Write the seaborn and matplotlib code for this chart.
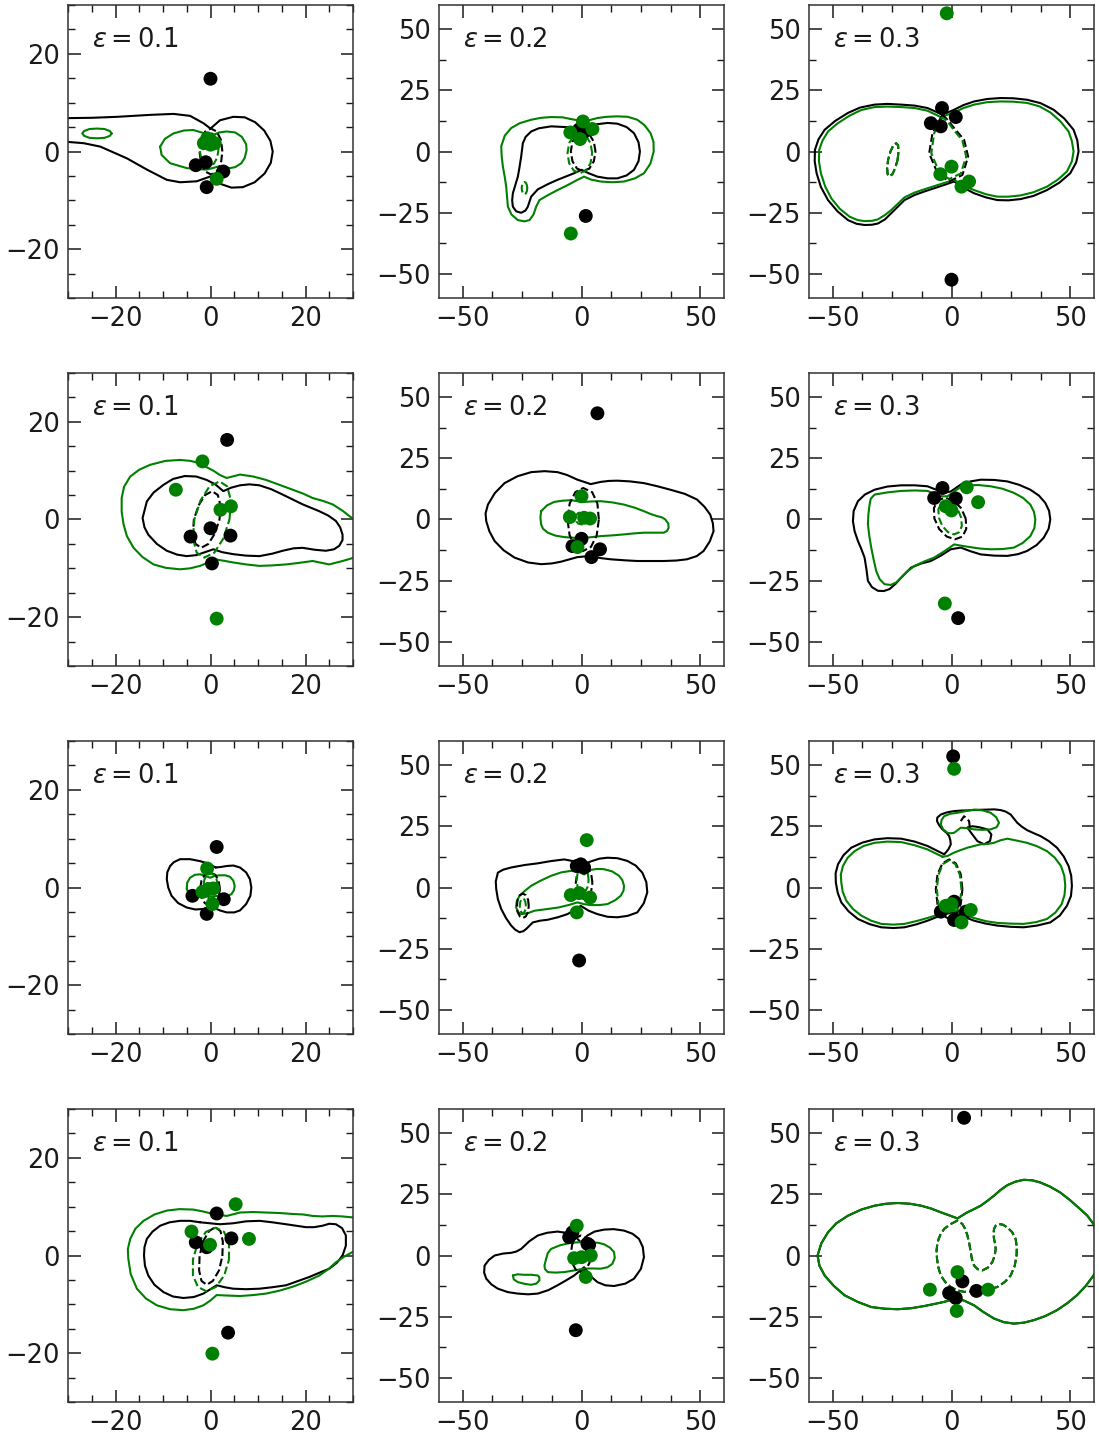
import numpy as np
import pandas as pd
import matplotlib.pyplot as plt
from matplotlib.ticker import MultipleLocator
import seaborn as sns

sns.set_style("ticks")
plt.rcParams['font.family'] = ['DejaVu Sans']
plt.rcParams['mathtext.fontset'] = 'dejavusans'

GREEN = '#008000'

# ---------------- row 1 ----------------
r1c1_black = [(-33, 6.8), (-25, 6.9), (-19.7, 7.1), (-12.7, 7.5), (-7.8, 7.7), (-4.3, 7.3), (-1.5, 5.8), (0, 4.7),
              (2, 6.4), (4.8, 7.1), (7.2, 7.0), (9.4, 6.0), (11.3, 4.3), (12.6, 2.2), (13.1, 0), (12.7, -2.3),
              (11.4, -4.5), (9.3, -6.3), (6.8, -7.3), (4.4, -7.4), (2, -6.6), (0, -5.1), (-2.9, -6.1), (-6.4, -6.3),
              (-9.2, -5.8), (-13.4, -3.7), (-17.6, -1.4), (-23.2, 1.0), (-26.7, 1.7), (-33, 2.2)]
r1c1_green = [(-10.6, 1.0), (-9.6, 2.6), (-7.8, 3.7), (-5.6, 4.3), (-3.6, 4.4), (-1.2, 3.7), (0.4, 3.3), (1.8, 3.9),
              (3.4, 4.1), (5.2, 3.9), (6.6, 3.0), (7.5, 1.5), (7.6, 0.3), (7.2, -1.3), (6.5, -2.4), (5.2, -3.2),
              (4.1, -3.4), (1.6, -3.1), (-0.8, -3.7), (-2.8, -3.6), (-5, -3.4), (-8.5, -2.4), (-10.3, -0.7)]
r1c1_green_small = [(-20.8, 3.7), (-21.2, 4.2), (-22.3, 4.6), (-23.9, 4.7), (-25.5, 4.6), (-26.6, 4.2), (-27.0, 3.7),
                    (-26.6, 3.2), (-25.5, 2.8), (-23.9, 2.7), (-22.3, 2.8), (-21.2, 3.2)]
r1c1_bdash = [(2.5, 0), (2.2, 2.4), (1.3, 4.1), (0.1, 4.7), (-1.1, 4.1), (-2.0, 2.4), (-2.3, 0), (-2.0, -2.4),
              (-1.1, -4.1), (0.1, -4.7), (1.3, -4.1), (2.2, -2.4)]
r1c1_gdash = [(1.7, 0.5), (1.4, 2.3), (0.7, 3.5), (-0.3, 4.0), (-1.3, 3.5), (-2.0, 2.3), (-2.3, 0.5), (-2.0, -1.3),
              (-1.3, -2.5), (-0.3, -3.0), (0.7, -2.5), (1.4, -1.3)]
r1c1_bpts = [(0, 14.9), (-3.1, -2.8), (-1, -2.2), (2.7, -4.1), (-0.8, -7.3)]
r1c1_gpts = [(-1.4, 1.7), (-0.7, 2.7), (0.9, 1.7), (0, 1.4), (1.3, -5.6)]

r1c2_black = [(-4.5, 9.9), (-12.8, 10.3), (-18, 9.5), (-21.2, 8.2), (-23.5, 6), (-24.7, 3.4), (-25.4, -2.1),
              (-26.2, -7), (-26.8, -10.3), (-28.9, -17.1), (-29.2, -20), (-28.9, -22.6), (-27.5, -24.5),
              (-25.4, -25.1), (-23.6, -24.2), (-22.6, -22.6), (-21.2, -18.5), (-18.4, -15.5), (-14, -13.3),
              (-10.1, -11.6), (-3.1, -8.9), (0, -7.5), (3, -8.9), (6.7, -10.3), (11, -11), (15.1, -11.0),
              (19, -9.8), (22.1, -7.5), (24, -4), (24.6, 0), (24, 3.8), (22.1, 7.5), (19, 10), (15.1, 11.4),
              (11, 11.7), (6.7, 11.2), (1.1, 9.6)]
r1c2_green = [(-4.5, 13.3), (-8, 14), (-12.8, 14.1), (-17, 13.8), (-21.2, 13.0), (-26, 11.6), (-29.6, 9.6),
              (-32.3, 6.5), (-33.8, 2.1), (-33.6, -2), (-33.1, -6.2), (-32.3, -10.5), (-31.7, -14.4), (-31.0, -22.6),
              (-29.5, -25.8), (-26.8, -28.1), (-24, -28.6), (-21.9, -28.1), (-20.2, -25.8), (-19.1, -22.6),
              (-17.7, -19.9), (-14, -17.8), (-10.1, -15.8), (-5.5, -13.6), (-1.7, -11.6), (1.1, -10.3), (4, -11.5),
              (8.1, -12.3), (13, -12.6), (17.9, -12.3), (22.5, -11), (26.3, -8.9), (29, -5), (30.4, 0), (30.3, 4),
              (29.1, 7.5), (26.5, 10.8), (23.5, 13.0), (19.5, 14.2), (15.1, 14.4), (10.5, 14.2), (6.7, 13.7),
              (1.1, 12.3)]
r1c2_bdash = [(5.9, 0), (5.2, 4), (3.3, 7), (0.7, 8), (-1.9, 7), (-3.8, 4), (-4.5, 0), (-3.8, -4), (-1.9, -7),
              (0.7, -8), (3.3, -7), (5.2, -4)]
r1c2_gdash = [(4.5, -0.7), (3.8, 3.4), (1.9, 6.4), (-0.7, 7.5), (-3.3, 6.4), (-5.2, 3.4), (-5.9, -0.7), (-5.2, -4.8),
              (-3.3, -7.8), (-0.7, -8.9), (1.9, -7.8), (3.8, -4.8)]
r1c2_gdash_small = [(-22.8, -15), (-23, -13.8), (-23.4, -12.8), (-24, -12.5), (-24.6, -12.8), (-25, -13.8),
                    (-25.2, -15), (-25, -16.2), (-24.6, -17.2), (-24, -17.5), (-23.4, -17.2), (-23, -16.2)]
r1c2_bpts = [(1.8, -26.4), (-1, 9), (1, 8)]
r1c2_gpts = [(-4.5, -33.6), (0.6, 12.3), (4.6, 9.2), (-4.7, 7.8), (-0.6, 5.1)]

r1c3_black = [(-3.8, 15.1), (-10.1, 17.8), (-15.5, 18.8), (-21.2, 19.2), (-27, 19.5), (-32.4, 19.2), (-38.5, 18),
              (-43.6, 15.8), (-49, 12.5), (-53.4, 8.9), (-56, 5), (-57.5, 0.7), (-57.6, -4), (-56.8, -8.9),
              (-55, -14.5), (-52, -19.9), (-48, -24.5), (-43.6, -28.1), (-40, -29.6), (-36.6, -30.1), (-33.5, -30),
              (-31, -29.5), (-28, -27.8), (-25.4, -25.3), (-19.8, -19.9), (-15.5, -17.8), (-11.5, -16.4),
              (-3.1, -13.7), (1.1, -12.3), (5, -14.8), (9.5, -17.1), (14.5, -18.8), (19.3, -19.9), (24, -20),
              (29, -19.5), (34.5, -18.2), (40.2, -15.8), (45.5, -12.7), (50, -8.9), (52.5, -4.5), (53.5, 0),
              (53, 4.5), (51.4, 8.9), (47.5, 13.5), (43, 17.1), (37.5, 19.8), (31.8, 21.2), (26, 21.8), (20.7, 21.9),
              (15, 21.5), (9.5, 20.5), (5, 19), (1.1, 17.1)]
r1c3_green = [(-4.5, 14.1), (-10.1, 16.7), (-15.5, 17.8), (-21.2, 18.2), (-27, 18.4), (-32.4, 18.2), (-38, 17),
              (-42.9, 14.7), (-48, 11.5), (-52, 8.2), (-54.3, 4.5), (-55.7, 0.7), (-55.8, -4), (-55, -8.9),
              (-53.2, -14.3), (-50.6, -19.2), (-47, -23.5), (-42.9, -26.7), (-39.5, -28.1), (-36.6, -28.5),
              (-33.5, -28.4), (-31, -27.8), (-28, -26), (-25.4, -24), (-19.8, -18.8), (-15.5, -16.8), (-11.5, -15.5),
              (1.1, -11.6), (5, -14), (9.5, -15.8), (14.5, -17.5), (19.3, -18.5), (24, -18.5), (29, -18.0),
              (34.5, -16.7), (40.2, -14.4), (44.8, -11.5), (48.6, -8.2), (50.7, -4), (51.4, 0), (50.7, 4.2),
              (49.3, 8.2), (45.8, 12.4), (41.6, 16), (37, 18.5), (31.8, 19.9), (26, 20.4), (20.7, 20.5), (15, 20.2),
              (9.5, 19.2), (5, 17.8), (1.1, 16)]
r1c3_bdash = [(-3.8, 15.1), (-8, 7.5), (-9.4, -0.7), (-5.9, -8.9), (-1, -12.3), (4.6, -9.6), (7, -2.1), (5.3, 4.8),
              (1.1, 9.6), (-1.7, 13)]
r1c3_gdash = [(-4, 14), (-7.3, 7.5), (-8.5, -0.7), (-5.3, -8.2), (-1, -11.3), (3.9, -9), (6.2, -2.1), (4.6, 4.5),
              (0.8, 9), (-1.8, 12.5)]
r1c3_dash_small = [(-22.7, -3.4), (-22.3, 0), (-22.5, 2.5), (-23.3, 3.4), (-24.5, 2.5), (-25.7, 0), (-26.7, -3.4),
                   (-27.1, -6.8), (-26.9, -9.3), (-26.1, -10.2), (-24.9, -9.3), (-23.7, -6.8)]
r1c3_bpts = [(0, -52.5), (-4, 17.8), (-8.7, 11.6), (-4.5, 10.3), (1.8, 14.1)]
r1c3_gpts = [(-2, 56.6), (-4.7, -9.3), (0, -6.2), (4.2, -14.4), (7.4, -12.3)]

# ---------------- row 2 ----------------
r2c1_black = [(-5.4, 8.9), (-7.9, 8.3), (-9.9, 7.1), (-12, 5.5), (-13.4, 3.7), (-14.3, 0.3), (-13.9, -1.6),
              (-13.1, -3.1), (-11.3, -5), (-9.2, -6.4), (-7, -7.2), (-5, -7.5), (-3, -7.3), (-1.5, -6.8), (0.6, -6.1),
              (2.5, -6.7), (4.8, -7.1), (7.5, -7.4), (10.3, -7.5), (13, -7.0), (15.2, -6.4), (17.5, -5.9),
              (19.4, -5.8), (22, -6.2), (24.3, -6.4), (26, -6.1), (27.1, -5.4), (27.8, -4.2), (27.8, -3.1),
              (27.3, -1.6), (26.4, -0.3), (24.8, 0.8), (22.9, 1.7), (19.4, 3.1), (17.3, 4.1), (15.2, 5.1),
              (12.8, 6.2), (10.3, 7.0), (8.2, 7.2), (6.2, 7.0), (4.3, 6.5), (2.7, 5.8), (1, 7.2), (-0.8, 8.1),
              (-3, 8.8)]
r2c1_green = [(33, -7.8), (29.9, -7.9), (27.8, -8.5), (25, -9.2), (21.5, -8.5), (18.5, -8.9), (15.9, -9.2),
              (13, -9.4), (10.3, -9.5), (7.5, -9.2), (4.8, -8.8), (2.5, -8.4), (0.6, -8.1), (-1, -9), (-2.2, -9.5),
              (-4.3, -10), (-6.4, -10.2), (-9.4, -9.9), (-12, -9.2), (-14.3, -7.7), (-16.2, -5.8), (-17.6, -3.4),
              (-18.3, -1), (-18.7, 1.6), (-18.7, 4.4), (-18.2, 6.7), (-16.9, 8.8), (-15, 10.2), (-12.7, 11.2),
              (-9.5, 12), (-6.4, 12.2), (-4.2, 12.0), (-2.2, 11.5), (-0.6, 10.6), (0.6, 10), (2, 9.1), (3.4, 8.5),
              (6.2, 9.2), (9, 8.8), (11.7, 8.1), (14.5, 7.1), (17.3, 6.1), (19.5, 5.3), (21.5, 4.4), (23.7, 3.8),
              (25.7, 3.1), (27.8, 1.8), (29.9, 0.2), (33, -1)]
r2c1_bdash = [(1.9, 0), (2.1, 2.9), (1.55, 5.0), (0.36, 5.8), (-1.15, 5.0), (-2.5, 2.9), (-3.5, 0), (-3.7, -2.9),
              (-3.15, -5.0), (-1.96, -5.8), (-0.45, -5.0), (0.9, -2.9)]
r2c1_gdash = [(4.0, 0), (4.3, 3.9), (3.5, 6.8), (1.9, 7.8), (-0.2, 6.8), (-2.1, 3.9), (-3.4, 0), (-3.7, -3.9),
              (-2.9, -6.8), (-1.3, -7.8), (0.8, -6.8), (2.7, -3.9)]
r2c1_bpts = [(3.5, 16.3), (0, -1.8), (-4.2, -3.5), (4.2, -3.3), (0.3, -9.0)]
r2c1_gpts = [(-1.7, 11.9), (-7.3, 6.1), (2.1, 2.0), (4.3, 2.7), (1.3, -20.3)]

r2c2_black = [(3.9, 14.5), (-1.7, 16.3), (-6, 18.2), (-10.1, 19.4), (-15.5, 19.8), (-21.2, 19.4), (-27, 17.7),
              (-32.4, 14.9), (-36.5, 10.8), (-39.4, 6.1), (-40.4, 2.5), (-40.1, -0.7), (-38.8, -4.8), (-36.6, -8.8),
              (-32.8, -12.6), (-28.2, -15.6), (-22.5, -17.6), (-17, -18.3), (-12.5, -18), (-8.7, -17.3),
              (-1.7, -15.4), (3.9, -14.9), (8, -15.8), (12.3, -16.3), (18, -16.7), (23.5, -17), (29, -17),
              (34.6, -17), (40, -16.8), (44.4, -16.3), (48.5, -15), (51.4, -12.9), (54, -9), (55.6, -4.8),
              (55.3, -1.5), (54.2, 2.0), (51.8, 5.2), (48.6, 8.2), (43.5, 10.5), (37.4, 12.2), (32, 13.6),
              (26.3, 14.9), (20.5, 15.6), (15.1, 15.9), (11.5, 15.8), (8.1, 15.4)]
r2c2_green = [(-17, 3.4), (-14.5, 5.8), (-11.5, 7.2), (-8, 7.7), (-4.5, 7.9), (-1.5, 7.5), (1.1, 7.2), (4.5, 7.4),
              (8.1, 7.5), (13, 7), (17.9, 6.1), (22.2, 4.9), (26.3, 3.4), (29.2, 2.2), (31.8, 1.4), (33.8, 0.9),
              (35.3, 0), (36.5, -1.6), (36.7, -3.4), (36, -4.7), (34.6, -5.4), (30.5, -5.4), (26.3, -5.4),
              (22, -5.7), (17.9, -6.1), (13, -6.5), (8.1, -6.8), (4.5, -7.2), (1.1, -7.5), (-3, -7.5), (-7.3, -7.2),
              (-11, -6.6), (-14.2, -5.4), (-16.2, -3.8), (-17, -2.0), (-17.3, 0.8)]
r2c2_bdash = [(7.3, 0), (6.7, 6.5), (4.5, 11.2), (0.7, 12.9), (-2.6, 11.2), (-5.0, 6.5), (-5.9, 0), (-5.0, -6.5),
              (-2.6, -11.2), (0.7, -12.9), (4.0, -11.2), (6.4, -6.5)]
r2c2_gdash = [(2.5, 0.5), (2.2, 1.8), (1.3, 2.7), (0, 3), (-1.3, 2.7), (-2.2, 1.8), (-2.5, 0.5), (-2.2, -0.8),
              (-1.3, -1.7), (0, -2), (1.3, -1.7), (2.2, -0.8)]
r2c2_bpts = [(6.7, 43.5), (0, -7.9), (-3.8, -10.9), (7.8, -12.2), (4.2, -15.4)]
r2c2_gpts = [(0, 9.5), (-4.9, 1.0), (1.1, 0.7), (3.6, 0.4), (-1.7, -11.3)]

r2c3_black = [(-3.1, 10.9), (-10.1, 13.6), (-15.5, 14), (-21.2, 14), (-27, 13.5), (-32.4, 12.2), (-36.5, 10.2),
              (-39.4, 7.5), (-41.2, 3.5), (-41.5, -0.7), (-40.8, -4.8), (-39.4, -8.8), (-38, -12), (-36.6, -15.6),
              (-35.8, -20.5), (-35.2, -25.1), (-33.5, -27.7), (-31, -29.2), (-28.5, -29.3), (-26.1, -28.5),
              (-23.5, -26.3), (-21.2, -23.8), (-17, -19.7), (-13, -18.1), (-8.7, -17), (-4.5, -14.8), (-0.3, -12.2),
              (3.9, -11.5), (8, -13), (12.3, -14.3), (18, -14.8), (23.5, -14.9), (28, -14.2), (31.8, -12.9),
              (35.8, -10.5), (38.8, -7.5), (40.9, -3.8), (41.6, 0), (41.1, 3.5), (39.5, 6.8), (36.8, 9.8),
              (33.2, 12.2), (28.5, 14.2), (23.5, 15.6), (18, 16.2), (12.3, 16.3), (8, 15.6), (3.9, 14.3),
              (-0.3, 11.5)]
r2c3_green = [(-4.5, 9.5), (-10.1, 11.7), (-15.5, 11.9), (-21.2, 11.7), (-27, 11.1), (-32.4, 10.2), (-34, 8.5),
              (-34.5, 6.1), (-35, 2), (-35.2, -2.0), (-34.6, -6.8), (-33.8, -11.5), (-32.8, -16.3), (-31.7, -21.1),
              (-30.2, -24.5), (-28.2, -26.5), (-25.6, -26.8), (-23.3, -25.8), (-21, -23.6), (-19.1, -21.7),
              (-15.6, -19), (-11.5, -17.2), (-7.3, -15.6), (-3, -13), (1.1, -10.2), (4.5, -10.8), (7.8, -11.3),
              (12, -11.9), (16.5, -12.2), (21.5, -12.1), (26.3, -11.5), (30, -9.6), (33.2, -6.8), (34.9, -3.5),
              (35.3, 0), (34.7, 3.2), (33.2, 6.1), (30.2, 8.8), (26.3, 10.9), (21.5, 12.6), (16.5, 13.6),
              (11.5, 14.1), (6.7, 14), (3.5, 13), (1.1, 11.5), (-1.7, 9.5)]
r2c3_bdash = [(6, 0.4), (4.0, 4.7), (0.8, 7.8), (-2.7, 8.9), (-5.8, 7.8), (-7.4, 4.7), (-7.2, 0.4), (-5.2, -3.9),
              (-2, -7), (1.5, -8.1), (4.6, -7), (6.2, -3.9)]
r2c3_gdash = [(4.1, 0.7), (2.65, 4.1), (0.25, 6.6), (-2.3, 7.5), (-4.45, 6.6), (-5.55, 4.1), (-5.3, 0.7),
              (-3.85, -2.7), (-1.45, -5.2), (1.1, -6.1), (3.25, -5.2), (4.35, -2.7)]
r2c3_bpts = [(-3.8, 12.9), (-7.3, 8.8), (1.8, 8.6), (2.8, -40.4)]
r2c3_gpts = [(6.4, 13.2), (11.2, 7.1), (-2.4, 5.4), (0, 3.7), (-2.8, -34.4)]

# ---------------- row 3 ----------------
r3c1_black = [(1.1, 4.1), (-0.5, 4.9), (-2.2, 5.4), (-4.3, 5.8), (-6.4, 5.8), (-7.7, 5.2), (-8.5, 4.4), (-9.1, 3.1),
              (-9.2, 1.7), (-8.9, 0), (-8.2, -1.7), (-6.8, -3.2), (-5, -4.1), (-3.2, -4.5), (-1.5, -4.4),
              (0.6, -4.1), (2, -4.7), (3.4, -5.1), (5, -5.1), (6.2, -4.7), (7.5, -3.4), (8.4, -1.7), (8.6, 0),
              (8.3, 1.7), (7.5, 3.1), (6.2, 4.1), (4.8, 4.5), (3.4, 4.4), (2.2, 4.2)]
r3c1_green = [(-5, -0.3), (-4.9, 1.0), (-4.3, 2.0), (-3.3, 2.6), (-2.2, 2.7), (-1.1, 2.4), (-0.1, 2.0), (1, 2.4),
              (2, 2.5), (3.1, 2.5), (4.1, 2.2), (4.8, 1.4), (5.1, 0.3), (4.9, -0.6), (4.4, -1.4), (3.3, -1.7),
              (2, -1.7), (0.6, -1.8), (-0.8, -1.8), (-2.2, -1.8), (-3.6, -1.7), (-4.6, -1.1)]
r3c1_bdash = [(2, -0.3), (1.7, 1.4), (1, 2.6), (-0.1, 3.1), (-1.2, 2.6), (-1.9, 1.4), (-2.2, -0.3), (-1.9, -2),
              (-1.2, -3.2), (-0.1, -3.7), (1, -3.2), (1.7, -2)]
r3c1_gdash = [(1.5, 0.3), (1.3, 1.6), (0.75, 2.6), (0, 2.9), (-0.75, 2.6), (-1.3, 1.6), (-1.5, 0.3), (-1.3, -1),
              (-0.75, -2), (0, -2.3), (0.75, -2), (1.3, -1)]
r3c1_bpts = [(1.3, 8.3), (-3.8, -1.7), (2.8, -2.4), (-0.8, -5.4)]
r3c1_gpts = [(-0.7, 3.9), (-1.7, -0.9), (0.6, -0.2), (-0.5, -0.3), (0.4, -3.4)]

r3c2_black = [(0, 9.5), (-3.5, 10.8), (-7.3, 11.5), (-13, 10.8), (-18.4, 9.9), (-24, 9.2), (-29.6, 8.2), (-33, 7.3),
              (-35.2, 6.1), (-36.1, 2.5), (-35.9, -0.7), (-35.2, -4.8), (-33.8, -8.8), (-31.8, -12.5),
              (-29.6, -15.6), (-27.9, -17.3), (-26.1, -18.3), (-24.5, -17.9), (-23.3, -17), (-20.5, -14.3),
              (-17.5, -13.6), (-14.2, -13.2), (-10, -12.2), (-5.9, -10.9), (-2.8, -9.2), (-0.3, -7.5), (3, -9.5),
              (6.7, -10.9), (11, -12), (15.1, -12.2), (19.5, -11.6), (23.5, -10.2), (26.2, -6.5), (27.7, -2.0),
              (27.3, 2.2), (25.6, 6.1), (22.8, 9), (19.3, 10.9), (15.1, 12), (10.9, 12.2), (7.5, 11.8),
              (4.6, 10.9), (2, 10)]
r3c2_green = [(1.1, 5.4), (-1.5, 6.5), (-4.5, 6.8), (-8.5, 6.2), (-12.8, 4.8), (-17.2, 2.8), (-21.2, 0.7),
              (-24, -1.5), (-26.1, -3.4), (-27.3, -5.8), (-27.5, -8.2), (-26.8, -10), (-25.4, -10.9), (-22.5, -10.5),
              (-19.8, -9.5), (-15, -8.9), (-9.8, -8.2), (-5.5, -7.2), (-1.7, -6.1), (1, -6.8), (3.9, -7.2),
              (7.5, -7.2), (10.9, -6.8), (14.2, -5.2), (16.5, -3.4), (17.7, -1.3), (17.9, 0.7), (17.2, 3),
              (15.8, 4.8), (12.9, 6.6), (9.5, 7.5), (6.5, 7.6), (3.9, 7.2)]
r3c2_bdash = [(4.6, 2), (4.1, 5.4), (2.85, 7.9), (1.1, 8.8), (-0.65, 7.9), (-1.9, 5.4), (-2.4, 2), (-1.9, -1.4),
              (-0.65, -3.9), (1.1, -4.8), (2.85, -3.9), (4.1, -1.4)]
r3c2_gdash = [(3, 3), (2.7, 5.5), (1.75, 7.35), (0.5, 8), (-0.75, 7.35), (-1.7, 5.5), (-2, 3), (-1.7, 0.5),
              (-0.75, -1.35), (0.5, -2), (1.75, -1.35), (2.7, 0.5)]
r3c2_bdash_left = [(-22.2, -7.5), (-22.5, -5), (-23.45, -3.15), (-24.7, -2.5), (-25.95, -3.15), (-26.9, -5),
                   (-27.2, -7.5), (-26.9, -10), (-25.95, -11.85), (-24.7, -12.5), (-23.45, -11.85), (-22.5, -10)]
r3c2_gdash_left = [(-23.4, -7.5), (-23.6, -6), (-24.05, -4.9), (-24.7, -4.5), (-25.35, -4.9), (-25.8, -6),
                   (-26, -7.5), (-25.8, -9), (-25.35, -10.1), (-24.7, -10.5), (-24.05, -10.1), (-23.6, -9)]
r3c2_bpts = [(-2, 8.8), (1.1, 8.2), (-0.3, 9.5), (-1, -29.9)]
r3c2_gpts = [(2.2, 19.4), (-4.5, -3.1), (-1, -2.3), (3.6, -4.1), (-2, -10.2)]

r3c3_black = [(-3.1, 13.6), (-10.1, 17), (-15.5, 18.8), (-21.2, 20), (-27, 20.2), (-32.4, 19.7), (-37.5, 18.4),
              (-42.2, 16.3), (-45.5, 13.2), (-47.8, 9.5), (-48.8, 5.8), (-48.7, 2.0), (-47.9, -2.2), (-46.4, -6.1),
              (-43.3, -9.8), (-39.4, -12.9), (-34.5, -15), (-29.6, -16.3), (-24.5, -16.6), (-19.8, -16.3),
              (-14.8, -15.1), (-10.1, -13.6), (-3.1, -10.9), (1.1, -10.2), (5, -11.9), (9.5, -13.6), (14.5, -14.8),
              (19.3, -15.6), (25, -16.1), (30.4, -16.3), (36, -15.6), (41.6, -14.3), (45.6, -11.5), (48.6, -7.5),
              (50.3, -3.5), (50.7, 0.7), (50.4, 4.8), (49.3, 8.8), (47.2, 12.8), (44.4, 16.3), (41, 19),
              (37.4, 21.1), (34.5, 22.3), (31.8, 23.5), (29.5, 25), (27.7, 26.5), (26.2, 28.3), (24.9, 29.9),
              (22.8, 31.1), (20.7, 31.7), (18, 32), (15.1, 31.9), (11, 31.8), (7, 31.6), (4, 31.5), (1.1, 31.3),
              (-1.8, 30.8), (-4.5, 29.9), (-6, 28.6), (-6.1, 27.2), (-5.2, 25.5), (-3.8, 23.8), (-2, 22.3),
              (-1, 21.1), (-0.5, 19.4), (-0.3, 17.7), (-1.2, 15.8), (-2.4, 14.3)]
r3c3_black_loop = [(6.7, 24.5), (8.8, 21.7), (10.9, 19), (13.7, 17.7), (16.2, 19), (16.8, 21.7), (15.1, 23.8),
                   (11.6, 24.7), (8.8, 25.1)]
r3c3_green = [(-3.8, 12.6), (-10.1, 15.6), (-15.5, 17.3), (-21.2, 18.6), (-27, 18.8), (-32.4, 18.3), (-37, 17),
              (-40.8, 14.9), (-43.8, 12.1), (-45.7, 8.8), (-46.6, 5.3), (-46.4, 2.0), (-45.8, -1.8), (-44.3, -5.4),
              (-41.5, -8.8), (-38, -11.5), (-33.8, -13.6), (-29.6, -14.9), (-24.5, -15.2), (-19.8, -14.9),
              (-15, -13.8), (-10.1, -12.5), (-4.5, -10.8), (1.1, -9.5), (5, -11), (9.5, -12.5), (14.5, -13.8),
              (19.3, -14.5), (25, -14.8), (30.4, -14.9), (35.5, -14.2), (40.2, -12.9), (43.8, -10.2), (46.4, -6.8),
              (47.6, -3), (47.9, 0.7), (47.5, 4.8), (46.1, 8.8), (43.5, 12.2), (40.2, 14.9), (36, 16.9),
              (31.8, 18.3), (27.5, 19.2), (23.5, 20), (20.5, 19.3), (17.9, 18.3), (15, 17.8), (12.3, 17.7),
              (9.5, 17), (6.7, 16.3), (3.8, 15.3), (1.1, 14.3), (-1.7, 12.9)]
r3c3_green_loop = [(-4.5, 25.8), (-4.2, 27.6), (-3.1, 29.2), (-0.5, 30.2), (2.5, 30.6), (6, 31.3), (9.5, 31.9),
                   (13, 31.6), (16.5, 30.6), (18.8, 28.8), (20, 26.5), (19, 24.7), (16.5, 23.8), (13, 23.6),
                   (9.5, 23.8), (6.5, 24.3), (3.9, 24.5), (2.3, 23.3), (1.1, 22.4), (-0.3, 22.2), (-1.7, 22.4),
                   (-3.5, 23.8)]
r3c3_bdash = [(4.6, -0.7), (3.9, 5.4), (1.8, 9.9), (-1, 11.5), (-3.8, 9.9), (-5.9, 5.4), (-6.6, -0.7), (-5.9, -6.8),
              (-3.8, -11.3), (-1, -12.9), (1.8, -11.3), (3.9, -6.8)]
r3c3_gdash = [(4.2, -0.7), (3.5, 5.2), (1.6, 9.6), (-1, 11.1), (-3.6, 9.6), (-5.5, 5.2), (-6.2, -0.7), (-5.5, -6.6),
              (-3.6, -11), (-1, -12.5), (1.6, -11), (3.5, -6.6)]
r3c3_bdash_top = [(3.9, 27.2), (5.3, 29.2), (7.4, 27.2), (7.8, 23.8)]
r3c3_bpts = [(0.7, 53.7), (-4.5, -9.9), (1.1, -5.8), (1.1, -13.3), (6, -9.9)]
r3c3_gpts = [(1.1, 48.6), (-2.4, -7.5), (0, -6.8), (8.1, -9.2), (4.2, -14.3)]

# ---------------- row 4 ----------------
r4c1_black = [(-2.2, 6.8), (-4.3, 7.1), (-6.4, 7.1), (-8.6, 6.8), (-10.6, 6.1), (-12.2, 4.9), (-13.4, 3.4),
              (-13.9, 1.7), (-14, 0), (-13.8, -2.1), (-13.1, -4.1), (-11.8, -6), (-9.9, -7.5), (-7.9, -8.4),
              (-5.7, -8.7), (-3.5, -8.5), (-1.5, -7.8), (1.3, -6.1), (3, -6.5), (4.8, -6.8), (7.5, -6.9),
              (10.3, -6.8), (13, -6.5), (15.9, -6.1), (18.5, -5.2), (20.8, -4.4), (23, -3.5), (25, -2.7),
              (26.6, -1.5), (27.8, 0), (28.5, 2), (28.5, 4.1), (27.7, 5.6), (26.4, 6.4), (25, 6.5), (23.6, 6.1),
              (21.8, 5.8), (20.1, 5.8), (18, 6.1), (15.9, 6.4), (13, 6.8), (10.3, 7.1), (7.5, 7), (4.8, 6.6),
              (2, 6.4), (-0.1, 6.6)]
r4c1_green = [(33, 7.6), (29.9, 7.8), (27.8, 8.0), (25.7, 8.1), (23.5, 8.0), (21.5, 8.1), (19.5, 8.4), (17.3, 8.5),
              (14.5, 8.7), (11.7, 8.8), (9, 8.9), (6.2, 8.8), (3.4, 8.1), (2, 8.3), (0.6, 8.5), (-1.5, 9.0),
              (-3.6, 9.4), (-6.5, 9.5), (-9.2, 9.2), (-11.8, 8.4), (-14.1, 7.1), (-15.8, 5.5), (-16.9, 3.4),
              (-17.4, 1.3), (-17.3, -0.7), (-16.8, -3.8), (-15.5, -6.8), (-13.6, -8.8), (-11.3, -10.2),
              (-8.5, -11.0), (-5.7, -11.2), (-3.5, -10.9), (-1.5, -10.2), (0, -9.2), (1.3, -8.1), (3.5, -8.2),
              (6.2, -8.3), (9, -8.1), (11.7, -7.8), (14.5, -7.2), (17.3, -6.4), (20, -5.4), (22.9, -4.1),
              (24.8, -2.8), (26.4, -1.4), (28.2, -0.2), (29.9, 0.7), (33, 1.5)]
r4c1_bdash = [(2.5, -0.1), (2.6, 2.85), (2.1, 5.0), (1.0, 5.8), (-0.3, 5.0), (-1.6, 2.85), (-2.3, -0.1),
              (-2.4, -3.05), (-1.9, -5.2), (-0.8, -6.0), (0.5, -5.2), (1.8, -3.05)]
r4c1_gdash = [(3.9, -0.8), (3.9, 2.45), (2.85, 4.85), (1.1, 5.7), (-0.95, 4.85), (-2.7, 2.45), (-3.7, -0.8),
              (-3.7, -4.05), (-2.65, -6.45), (-0.9, -7.3), (1.15, -6.45), (2.9, -4.05)]
r4c1_bpts = [(1.3, 8.6), (-3.1, 2.7), (-0.8, 1.7), (4.4, 3.5), (3.7, -15.8)]
r4c1_gpts = [(-4, 4.9), (-0.1, 2.2), (5.3, 10.5), (8.1, 3.4), (0.4, -20.1)]

r4c2_black = [(-3.1, 8.2), (-6.5, 9.3), (-10.1, 9.8), (-14.5, 9.3), (-18.4, 8.2), (-22, 5.8), (-25.4, 2.7),
              (-27.5, 1.6), (-29.6, 1.1), (-33, 0.8), (-36.6, 0), (-39, -1.8), (-40.8, -4.1), (-41, -7),
              (-40.1, -9.5), (-38, -11.8), (-35.2, -13.6), (-31, -15), (-26.8, -15.6), (-22.5, -15.9),
              (-18.4, -15.6), (-14, -14.2), (-10.1, -12.2), (-6.5, -10.2), (-3.1, -8.2), (1.1, -4.8), (3.5, -8.2),
              (6.7, -10.9), (10, -12.2), (13.7, -12.5), (18.5, -11.5), (22.1, -9.5), (25, -5.5), (26.3, -0.7),
              (25.8, 3.5), (24.2, 6.8), (21.5, 8.9), (17.9, 10.2), (13.5, 10.8), (9.5, 10.6), (5.5, 9.8),
              (2.5, 8.2), (-0.3, 5.4)]
r4c2_green = [(-14.9, -1.4), (-14.2, 1), (-12.8, 2.7), (-9, 4.2), (-4.5, 5.2), (0, 5.5), (3.9, 5.4), (7, 5.2),
              (9.5, 4.6), (12, 3.2), (13.7, 1.4), (14, -1), (13, -3.4), (11, -4.8), (8.1, -5.4), (4.5, -5.3),
              (1.1, -5.4), (-3, -6.1), (-7.3, -6.8), (-11, -7), (-14.2, -6.8), (-15.4, -5.5), (-15.6, -4.1)]
r4c2_green_small = [(-28.9, -8.2), (-28.5, -9.8), (-26.8, -10.9), (-24, -11.6), (-21.2, -12), (-19, -11.5),
                    (-17.7, -10.2), (-17.8, -8.8), (-18.4, -8.2), (-21, -7.9), (-24, -7.9), (-27, -7.7)]
r4c2_bdash = [(3.9, 0.7), (3.35, 4.45), (1.8, 7.2), (-0.3, 8.2), (-2.4, 7.2), (-3.95, 4.45), (-4.5, 0.7),
              (-3.95, -3.05), (-2.4, -5.8), (-0.3, -6.8), (1.8, -5.8), (3.35, -3.05)]
r4c2_bpts = [(-2.4, -30.6), (-5.2, 7.5), (-3.8, 9.5), (2.5, 4.8), (3.2, 4.3)]
r4c2_gpts = [(-2, 12.2), (-3.1, -1.1), (0, -0.7), (3.9, 0), (1.8, -8.8)]

r4c3_outer = [(2.5, 15.2), (-4.5, 17.7), (-8.5, 19.2), (-12.8, 20.4), (-17.5, 21.2), (-22.6, 21.5), (-27.5, 21.2),
              (-32.4, 20.4), (-38, 18.8), (-43.6, 16.3), (-48.5, 13.2), (-52, 9.5), (-54.8, 5), (-56.4, 0),
              (-55.6, -4.2), (-53.4, -8.2), (-49.5, -12.5), (-45, -16.3), (-39.5, -19), (-33.8, -21.1), (-28, -21.8),
              (-22.6, -22), (-17, -21.6), (-11.5, -20.7), (-7, -19.8), (-3.1, -19), (2.5, -17.4), (6, -18.8),
              (9.5, -20.4), (13.5, -23.2), (17.9, -25.8), (22, -27.3), (26.3, -27.9), (30.5, -27.5), (34.6, -26.5),
              (39.5, -24.8), (44.4, -22.4), (48.8, -19.5), (52.8, -16.3), (56.5, -12.5), (59.8, -8.2), (62, -4),
              (63, 0), (62, 5), (59.8, 12.9), (57.2, 16.3), (54.2, 19), (50, 22.6), (45.8, 25.8), (41.5, 28.2),
              (37.4, 29.9), (34, 30.8), (30.4, 31), (26.8, 30.2), (23.5, 28.8), (20.6, 26.8), (17.9, 24.5),
              (15, 22.3), (12.3, 20.4), (9.5, 19), (6.7, 17.7)]
r4c3_dash = [(2.5, 14.3), (-0.5, 12.8), (-3.1, 10.9), (-4.8, 8.3), (-5.9, 5.4), (-6.3, 2), (-6.1, -1.4), (-5.5, -5),
             (-4.5, -8.2), (-2.6, -10.9), (-0.3, -12.9), (2.5, -14.3), (5.3, -14.9), (8.8, -14.8), (12.3, -14.3),
             (16, -13.8), (19.3, -12.9), (22.5, -10.8), (24.9, -8.2), (26.6, -4.3), (27.4, 0), (27.5, 3.5),
             (27, 6.8), (25.5, 9.6), (23.5, 11.5), (21.7, 12.6), (20, 12.9), (18.6, 12.2), (17.9, 10.9),
             (17.7, 8.8), (17.9, 6.8), (18.4, 4.7), (18.6, 2.7), (18.2, 0), (17.2, -2.7), (15.3, -5), (13, -6.1),
             (11, -5.6), (9.5, -4.1), (8.6, -1.5), (8.1, 1.4), (7.5, 4.8), (6.7, 8.2), (5.8, 10.8), (4.6, 12.9)]
r4c3_bpts = [(5.3, 56.4), (4.6, -10.6), (-1, -15.4), (1.8, -17.4), (10.5, -14.5)]
r4c3_gpts = [(-9.1, -14), (2.5, -6.8), (15.4, -14), (2.2, -22.7)]

eps_labels = ['0.1', '0.2', '0.3']

panels = [
    [dict(black=[r1c1_black], green=[r1c1_green, r1c1_green_small], bdash=[r1c1_bdash], gdash=[r1c1_gdash],
          bpts=r1c1_bpts, gpts=r1c1_gpts),
     dict(black=[r1c2_black], green=[r1c2_green], bdash=[r1c2_bdash], gdash=[r1c2_gdash, r1c2_gdash_small],
          bpts=r1c2_bpts, gpts=r1c2_gpts),
     dict(black=[r1c3_black], green=[r1c3_green], bdash=[r1c3_bdash, r1c3_dash_small],
          gdash=[r1c3_gdash, r1c3_dash_small], bpts=r1c3_bpts, gpts=r1c3_gpts)],
    [dict(black=[r2c1_black], green=[r2c1_green], bdash=[r2c1_bdash], gdash=[r2c1_gdash],
          bpts=r2c1_bpts, gpts=r2c1_gpts),
     dict(black=[r2c2_black], green=[r2c2_green], bdash=[r2c2_bdash], gdash=[r2c2_gdash],
          bpts=r2c2_bpts, gpts=r2c2_gpts),
     dict(black=[r2c3_black], green=[r2c3_green], bdash=[r2c3_bdash], gdash=[r2c3_gdash],
          bpts=r2c3_bpts, gpts=r2c3_gpts)],
    [dict(black=[r3c1_black], green=[r3c1_green], bdash=[r3c1_bdash], gdash=[r3c1_gdash],
          bpts=r3c1_bpts, gpts=r3c1_gpts),
     dict(black=[r3c2_black], green=[r3c2_green], bdash=[r3c2_bdash, r3c2_bdash_left],
          gdash=[r3c2_gdash, r3c2_gdash_left], bpts=r3c2_bpts, gpts=r3c2_gpts),
     dict(black=[r3c3_black, r3c3_black_loop], green=[r3c3_green, r3c3_green_loop], bdash=[r3c3_bdash],
          gdash=[r3c3_gdash], bpts=r3c3_bpts, gpts=r3c3_gpts)],
    [dict(black=[r4c1_black], green=[r4c1_green], bdash=[r4c1_bdash], gdash=[r4c1_gdash],
          bpts=r4c1_bpts, gpts=r4c1_gpts),
     dict(black=[r4c2_black], green=[r4c2_green, r4c2_green_small], bdash=[r4c2_bdash], gdash=[],
          bpts=r4c2_bpts, gpts=r4c2_gpts),
     dict(black=[r4c3_outer], green=[r4c3_outer], bdash=[r4c3_dash], gdash=[r4c3_dash],
          bpts=r4c3_bpts, gpts=r4c3_gpts)],
]


def draw_curve(ax, pts, color, ls='-', closed=True):
    pts = list(pts) + ([pts[0]] if closed else [])
    df = pd.DataFrame(pts, columns=['x', 'y'])
    sns.lineplot(data=df, x='x', y='y', sort=False, estimator=None, color=color,
                 linestyle=ls, linewidth=1.5, ax=ax, zorder=2)


def draw_points(ax, pts, color):
    df = pd.DataFrame(pts, columns=['x', 'y'])
    sns.scatterplot(data=df, x='x', y='y', color=color, s=100, edgecolor='none',
                    ax=ax, zorder=4, clip_on=False)


fig = plt.figure(figsize=(10.99, 14.39), dpi=100)
lefts = [68, 439, 809]
tops = [5, 373, 741, 1109]
W, H = 285, 293

for i in range(4):
    for j in range(3):
        p = panels[i][j]
        ax = fig.add_axes([lefts[j] / 1099, 1 - (tops[i] + H) / 1439, W / 1099, H / 1439])
        for c in p['black']:
            draw_curve(ax, c, 'black')
        for c in p['green']:
            draw_curve(ax, c, GREEN)
        for c in p['bdash']:
            draw_curve(ax, c, 'black', '--', closed=(len(c) > 5))
        for c in p['gdash']:
            draw_curve(ax, c, GREEN, '--', closed=(len(c) > 5))
        if i == 2 and j == 2:
            draw_curve(ax, r3c3_bdash_top, 'black', '--', closed=False)
        draw_points(ax, p['bpts'], 'black')
        draw_points(ax, p['gpts'], GREEN)

        lim = 30 if j == 0 else 60
        ax.set_xlim(-lim, lim)
        ax.set_ylim(-lim, lim)
        if j == 0:
            ax.xaxis.set_major_locator(MultipleLocator(20))
            ax.yaxis.set_major_locator(MultipleLocator(20))
            ax.xaxis.set_minor_locator(MultipleLocator(5))
            ax.yaxis.set_minor_locator(MultipleLocator(5))
        else:
            ax.xaxis.set_major_locator(MultipleLocator(50))
            ax.yaxis.set_major_locator(MultipleLocator(25))
            ax.xaxis.set_minor_locator(MultipleLocator(12.5))
            ax.yaxis.set_minor_locator(MultipleLocator(12.5))
        ax.tick_params(which='both', direction='in', top=True, right=True, colors='#1a1a1a',
                       labelsize=18.5, pad=6)
        ax.tick_params(which='major', length=9, width=1.1)
        ax.tick_params(which='minor', length=5, width=1.0)
        for s in ax.spines.values():
            s.set_color('#333333')
            s.set_linewidth(1.1)
        ax.set_xlabel('')
        ax.set_ylabel('')
        ax.text(0.085, 0.88, r'$\varepsilon = %s$' % eps_labels[j], transform=ax.transAxes,
                fontsize=18.5, va='center', ha='left', color='#1a1a1a')

fig.savefig('out.png', dpi=100)
